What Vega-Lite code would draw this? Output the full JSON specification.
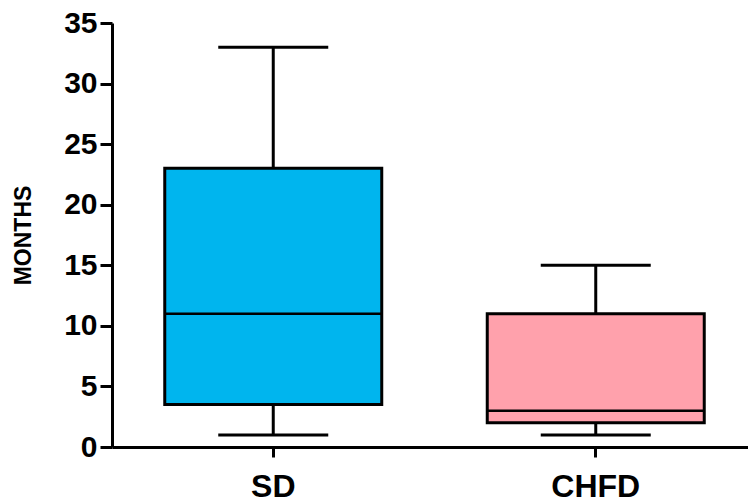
{
  "$schema": "https://vega.github.io/schema/vega-lite/v6.json",
  "autosize": "none",
  "width": 645,
  "height": 424,
  "padding": {"left": 112, "top": 23, "right": 0, "bottom": 56},
  "background": "white",
  "config": {
    "view": {"stroke": null},
    "font": "Liberation Sans"
  },
  "data": {
    "values": [
      {"group": "SD", "min": 1, "q1": 3.5, "median": 11, "q3": 23, "max": 33},
      {"group": "CHFD", "min": 1, "q1": 2, "median": 3, "q3": 11, "max": 15}
    ]
  },
  "encoding": {
    "x": {
      "field": "group",
      "type": "nominal",
      "sort": ["SD", "CHFD"],
      "scale": {"paddingInner": 0, "paddingOuter": 0},
      "axis": {
        "title": null,
        "labelAngle": 0,
        "bandPosition": 0.5,
        "domainColor": "black",
        "domainWidth": 3,
        "tickColor": "black",
        "tickWidth": 3,
        "tickSize": 10,
        "labelFont": "Liberation Sans",
        "labelFontWeight": "bold",
        "labelFontSize": 32,
        "labelColor": "black",
        "labelPadding": 14
      }
    }
  },
  "layer": [
    {
      "mark": {"type": "rule", "color": "black", "strokeWidth": 3, "opacity": 1},
      "encoding": {
        "y": {
          "field": "min",
          "type": "quantitative",
          "scale": {"domain": [0, 35], "nice": false},
          "axis": {
            "title": "MONTHS",
            "values": [0, 5, 10, 15, 20, 25, 30, 35],
            "grid": false,
            "domainColor": "black",
            "domainWidth": 3,
            "tickColor": "black",
            "tickWidth": 3,
            "tickSize": 12,
            "labelFont": "Liberation Sans",
            "labelFontWeight": "bold",
            "labelFontSize": 30,
            "labelColor": "black",
            "labelPadding": 3,
            "titleFont": "Liberation Sans",
            "titleFontWeight": "bold",
            "titleFontSize": 23,
            "titleColor": "black",
            "titleX": -89,
            "titleBaseline": "middle"
          }
        },
        "y2": {"field": "max"}
      }
    },
    {
      "mark": {"type": "bar", "size": 217, "stroke": "black", "strokeWidth": 3, "opacity": 1},
      "encoding": {
        "y": {"field": "q1", "type": "quantitative"},
        "y2": {"field": "q3"},
        "color": {
          "field": "group",
          "type": "nominal",
          "scale": {"domain": ["SD", "CHFD"], "range": ["#00B5EE", "#FFA1AC"]},
          "legend": null
        }
      }
    },
    {
      "mark": {"type": "tick", "size": 217, "thickness": 2.5, "color": "black", "opacity": 1},
      "encoding": {"y": {"field": "median", "type": "quantitative"}}
    },
    {
      "mark": {"type": "tick", "size": 110, "thickness": 3, "color": "black", "opacity": 1},
      "encoding": {"y": {"field": "min", "type": "quantitative"}}
    },
    {
      "mark": {"type": "tick", "size": 110, "thickness": 3, "color": "black", "opacity": 1},
      "encoding": {"y": {"field": "max", "type": "quantitative"}}
    }
  ]
}
